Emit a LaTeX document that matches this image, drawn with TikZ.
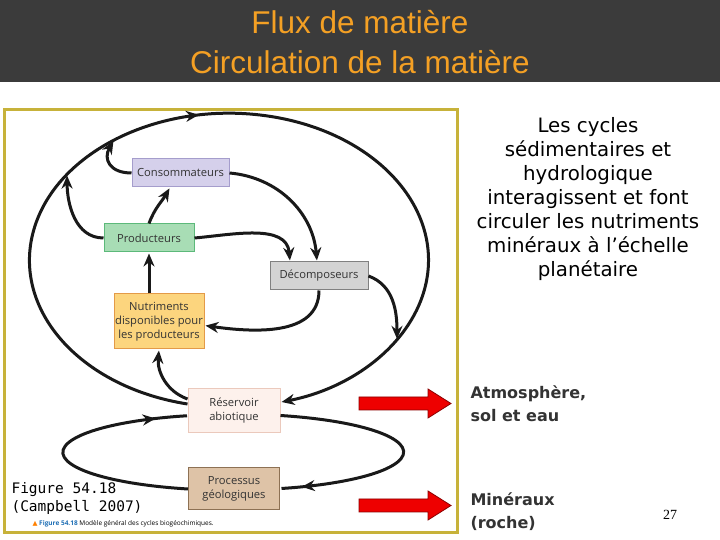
\documentclass[tikz,border=0pt]{standalone}
\usepackage{fontspec}
\usepackage{tikz}
\usetikzlibrary{arrows.meta, positioning, decorations.markings}

\newfontfamily\titlefont{Liberation Sans}
\newfontfamily\diagfont{Open Sans}
\newfontfamily\verdfont{DejaVu Sans}
\newfontfamily\monofont{DejaVu Sans Mono}
\newfontfamily\pagefont{Liberation Serif}

\definecolor{banner}{HTML}{3B3B3B}
\definecolor{titleorange}{HTML}{F4A024}
\definecolor{frameyellow}{HTML}{C7B23A}
\definecolor{consfill}{HTML}{D5D0EB}
\definecolor{consline}{HTML}{A59DCC}
\definecolor{prodfill}{HTML}{A8DDB5}
\definecolor{prodline}{HTML}{5CB97A}
\definecolor{decfill}{HTML}{D3D3D3}
\definecolor{decline}{HTML}{808080}
\definecolor{nutfill}{HTML}{FCD57E}
\definecolor{nutline}{HTML}{E39A48}
\definecolor{resfill}{HTML}{FDF1EC}
\definecolor{resline}{HTML}{EBC9BC}
\definecolor{geofill}{HTML}{DEC3A7}
\definecolor{geoline}{HTML}{8D7154}
\definecolor{arrowred}{HTML}{EE0000}
\definecolor{arrowdark}{HTML}{8B0000}
\definecolor{capblue}{HTML}{1F6FB5}

\begin{document}
\begin{tikzpicture}[x=1pt,y=1pt,shorten >=1pt,node distance=2cm,on grid,>={Stealth[length=13pt,width=11pt]},
        compartment/.style={rectangle,draw,line width=1pt,inner sep=1pt,align=center,
            text=black!80,font=\diagfont\fontsize{11.2}{14}\selectfont},
        flow/.style={line width=3pt,black!90},
        mid arrow/.style={postaction={decorate},
            decoration={markings,mark=at position #1 with {\arrow{>}}}},
        redarrow/.style={fill=arrowred,draw=arrowdark,line width=0.8pt},
        sidelabel/.style={anchor=west,align=left,text=black!80,
            font=\verdfont\bfseries\fontsize{16}{22.5}\selectfont}]

      \useasboundingbox (0,0) rectangle (720,540);
      \fill[banner] (0,458) rectangle (720,540);
      \node[font=\titlefont\fontsize{31.5}{40}\selectfont,text=titleorange,align=center]
          (title) at (360,498) {Flux de matière\\Circulation de la matière};

      \draw[frameyellow,line width=3pt] (4,7) rectangle (457,430);

      \node[compartment,fill=consfill,draw=consline,minimum width=97pt,minimum height=28pt]
          (cons) at (180.5,367) {Consommateurs};
      \node[compartment,fill=prodfill,draw=prodline,minimum width=90pt,minimum height=28pt]
          (prod) [below left=65pt and 31.5pt of cons] {Producteurs};
      \node[compartment,fill=decfill,draw=decline,minimum width=98pt,minimum height=28pt]
          (decomp) [below right=38pt and 170pt of prod] {Décomposeurs};
      \node[compartment,fill=nutfill,draw=nutline,minimum width=90pt,minimum height=55pt]
          (nutr) [below right=83.5pt and 10pt of prod] {Nutriments\\disponibles pour\\les producteurs};
      \node[compartment,fill=resfill,draw=resline,minimum width=92pt,minimum height=44pt]
          (res) [below right=89.5pt and 75pt of nutr] {Réservoir\\abiotique};
      \node[compartment,fill=geofill,draw=geoline,minimum width=91pt,minimum height=42pt]
          (geo) [below=78pt of res] {Processus\\géologiques};

      % big cycle and the points where the arrows join it
      \coordinate (c_big) at (229.5,280);
      \path (c_big) ++(125.4:199.5pt and 147pt) coordinate (hit_c)
            (c_big) ++(144.5:199.5pt and 147pt) coordinate (hit_p)
            (c_big) ++(-32.9:199.5pt and 147pt) coordinate (hit_d);

      \draw[flow,->,mid arrow=0.475] ([yshift=7pt]res.west)
          arc[start angle=258,end angle=-75,x radius=199.5pt,y radius=147pt];
      \draw[flow,mid arrow=0.88] (geo.west)
          arc[start angle=254.7,end angle=105.3,x radius=170pt,y radius=38pt];
      \draw[flow,mid arrow=0.92] ([yshift=-4.5pt]res.east)
          arc[start angle=74,end angle=-74,x radius=170pt,y radius=38pt];

      \path[flow,->] (cons.west) edge [out=180,in=240,looseness=1.5] (hit_c)
                (cons.east) edge [out=-5,in=95] ([xshift=-2pt]decomp.north)
                (prod.west) edge [out=180,in=-90] (hit_p)
                (prod.north) edge [out=70,in=-120] ([xshift=-10.5pt]cons.south)
                (prod.east) edge [out=5,in=95] ([xshift=-29pt]decomp.north)
                (prod.south |- nutr.north) edge (prod.south)
                (decomp.south) edge [out=-90,in=-8] ([yshift=-4pt]nutr.east)
                (decomp.east) edge [out=-20,in=90] (hit_d)
                ([yshift=12pt]res.west) edge [out=160,in=-95] (nutr.south);

      \draw[redarrow] (359,130) -- (428,130) -- (428,122) -- (451,136.5)
          -- (428,151) -- (428,143) -- (359,143) -- cycle;
      \draw[redarrow] (359,28) -- (428,28) -- (428,20) -- (451,34.5)
          -- (428,49) -- (428,41) -- (359,41) -- cycle;

      \node[sidelabel] (atmo) at (467,136.5) {Atmosphère,\\sol et eau};
      \node[sidelabel] (miner) at (467,28.5) {Minéraux\\(roche)};

      \node[font=\verdfont\fontsize{19.8}{24}\selectfont,align=center] (txt) at (588,341)
          {Les cycles\\sédimentaires et\\hydrologique\\interagissent et font\\circuler les nutriments\\minéraux à l’échelle\\planétaire};

      \node[font=\monofont\fontsize{14.5}{18}\selectfont,align=left,anchor=west]
          (fig) at (8,41) {Figure 54.18\\(Campbell 2007)};
      \node[font=\diagfont\fontsize{6.5}{8}\selectfont,anchor=west] (cap) at (29,16)
          {{\verdfont\textcolor{orange}{▲}} \textcolor{capblue}{\bfseries Figure 54.18} Modèle général des cycles biogéochimiques.};

      \node[font=\pagefont\fontsize{14}{16}\selectfont] (page) at (670,25) {27};
\end{tikzpicture}
\end{document}
